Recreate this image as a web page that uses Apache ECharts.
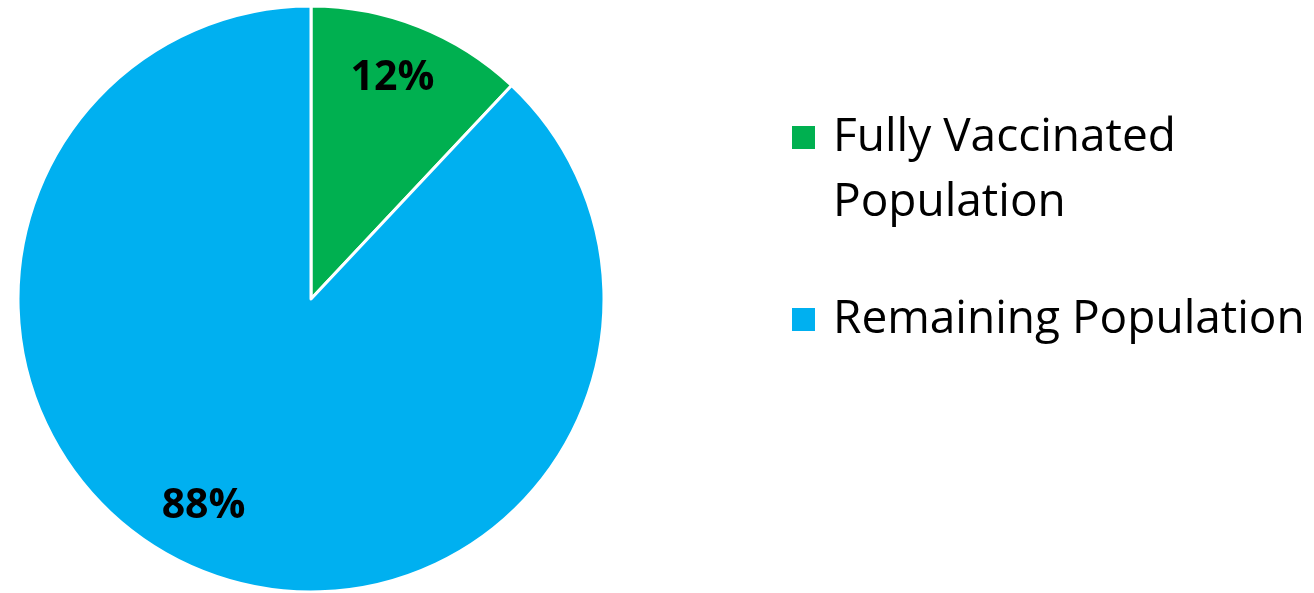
<!DOCTYPE html>
<html>
<head>
<meta charset="utf-8">
<script src="https://cdn.jsdelivr.net/npm/echarts@6/dist/echarts.min.js"></script>
<style>html,body{margin:0;padding:0;background:#fff;}#c{width:1314px;height:593px;}</style>
</head>
<body>
<div id="c"></div>
<script>
const categories = ['Fully Vaccinated Population', 'Remaining Population'];
const values = [12, 88];
const colors = ['#00B050', '#00B0F0'];
const legendLabels = [' \nFully Vaccinated\nPopulation', 'Remaining Population'];

const chart = echarts.init(document.getElementById('c'));
const FONT = '"Open Sans", sans-serif';
const pieData = categories.map((n, i) => ({ name: n, value: values[i], itemStyle: { color: colors[i] } }));

chart.setOption({
  animation: false,
  legend: {
    orient: 'vertical',
    left: 790,
    top: 40,
    padding: 0,
    itemWidth: 25,
    itemHeight: 25,
    itemGap: 52,
    icon: 'rect',
    selectedMode: false,
    formatter: name => legendLabels[categories.indexOf(name)],
    textStyle: { fontFamily: FONT, fontSize: 46, color: '#000', lineHeight: 65, padding: [0, 0, 0, 12] },
    data: categories
  },
  series: [
    {
      type: 'pie',
      center: [311, 299],
      radius: [0, 293],
      startAngle: 90,
      clockwise: true,
      silent: true,
      itemStyle: { borderColor: '#fff', borderWidth: 3 },
      label: { show: false },
      labelLine: { show: false },
      data: pieData
    },
    {
      type: 'pie',
      center: [311, 299],
      radius: [176, 293],
      startAngle: 90,
      clockwise: true,
      silent: true,
      legendHoverLink: false,
      itemStyle: { color: 'transparent', borderWidth: 0 },
      label: {
        show: true,
        position: 'inside',
        formatter: p => p.value + '%',
        fontFamily: FONT,
        fontWeight: 'bold',
        fontSize: 41,
        color: '#000'
      },
      labelLine: { show: false },
      data: categories.map((n, i) => ({
        name: n, value: values[i], itemStyle: { color: 'transparent' },
        label: i === 1 ? { offset: [-20, -13] } : { offset: [-6, 0] }
      }))
    }
  ]
});
</script>
</body>
</html>
